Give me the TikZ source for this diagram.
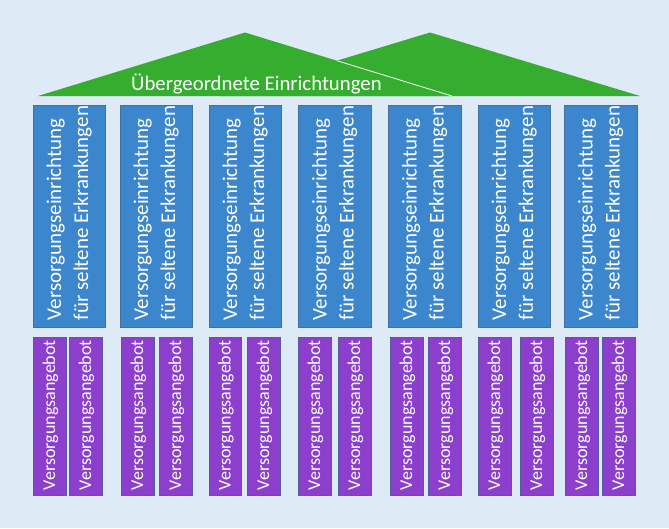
\documentclass[tikz,border=0pt]{standalone}
\usepackage{fontspec}
\setmainfont{Carlito}
\definecolor{bg}{RGB}{222,235,247}
\definecolor{bluebox}{RGB}{59,134,204}
\definecolor{blueedge}{RGB}{65,113,156}
\definecolor{purplebox}{RGB}{140,62,204}
\definecolor{purpleedge}{RGB}{84,92,160}
\definecolor{roofgreen}{RGB}{53,174,47}
\tikzset{
 bluecol/.style={draw=blueedge, fill=bluebox, line width=0.8pt, minimum width=72.5pt, minimum height=222pt, inner sep=0pt, anchor=north west},
 purplecol/.style={draw=purpleedge, fill=purplebox, line width=0.8pt, minimum width=32.5pt, minimum height=158.5pt, inner sep=0pt, anchor=north west},
 coltext/.style={rotate=90, anchor=base west, text=white, inner sep=0pt, font=\fontsize{21}{25}\selectfont},
 offertext/.style={rotate=90, anchor=base west, text=white, inner sep=0pt, font=\fontsize{18}{21}\selectfont},
 rooftext/.style={anchor=base west, text=white, inner sep=0pt, font=\fontsize{20.8}{25}\selectfont},
}
\begin{document}
\begin{tikzpicture}[x=1pt,y=-1pt]
\fill[bg] (0,0) rectangle (669,528);
\useasboundingbox (0,0) rectangle (669,528);
% roof
\coordinate (ltl) at (38,96);
\coordinate (ltt) at (245,32.5);
\coordinate (ltr) at (452,96);
\coordinate (rtl) at (220,96);
\coordinate (rtt) at (430,32.5);
\coordinate (rtr) at (640,96);
\fill[roofgreen] (rtl) -- (rtt) -- (rtr) -- cycle;
\fill[roofgreen] (ltl) -- (ltt) -- (ltr) -- cycle;
\coordinate (cross) at (intersection of ltt--ltr and rtl--rtt);
\draw[white, line width=0.8pt] (cross) -- (ltr);
\node[rooftext] (title) at (131,90.7) {Übergeordnete Einrichtungen};
% columns
\foreach \i/\L/\pa/\pb in {1/32.5/33/69, 2/119.5/121/159, 3/208.5/208.5/247, 4/298/298/338, 5/388/390/428, 6/477.5/478/520, 7/564/565/602} {
  \node[bluecol] (b\i) at (\L,105) {};
  \node[coltext] (bta\i) at ([xshift=28.5pt,yshift=7.5pt]b\i.south west) {Versorgungseinrichtung};
  \node[coltext] (btb\i) at ([xshift=55.5pt,yshift=7.5pt]b\i.south west) {für seltene Erkrankungen};
  \node[purplecol] (pa\i) at (\pa,336.5) {};
  \node[purplecol] (pb\i) at (\pb,336.5) {};
  \node[offertext] (pta\i) at ([xshift=22pt,yshift=5.5pt]pa\i.south west) {Versorgungsangebot};
  \node[offertext] (ptb\i) at ([xshift=22pt,yshift=5.5pt]pb\i.south west) {Versorgungsangebot};
}
\end{tikzpicture}
\end{document}
